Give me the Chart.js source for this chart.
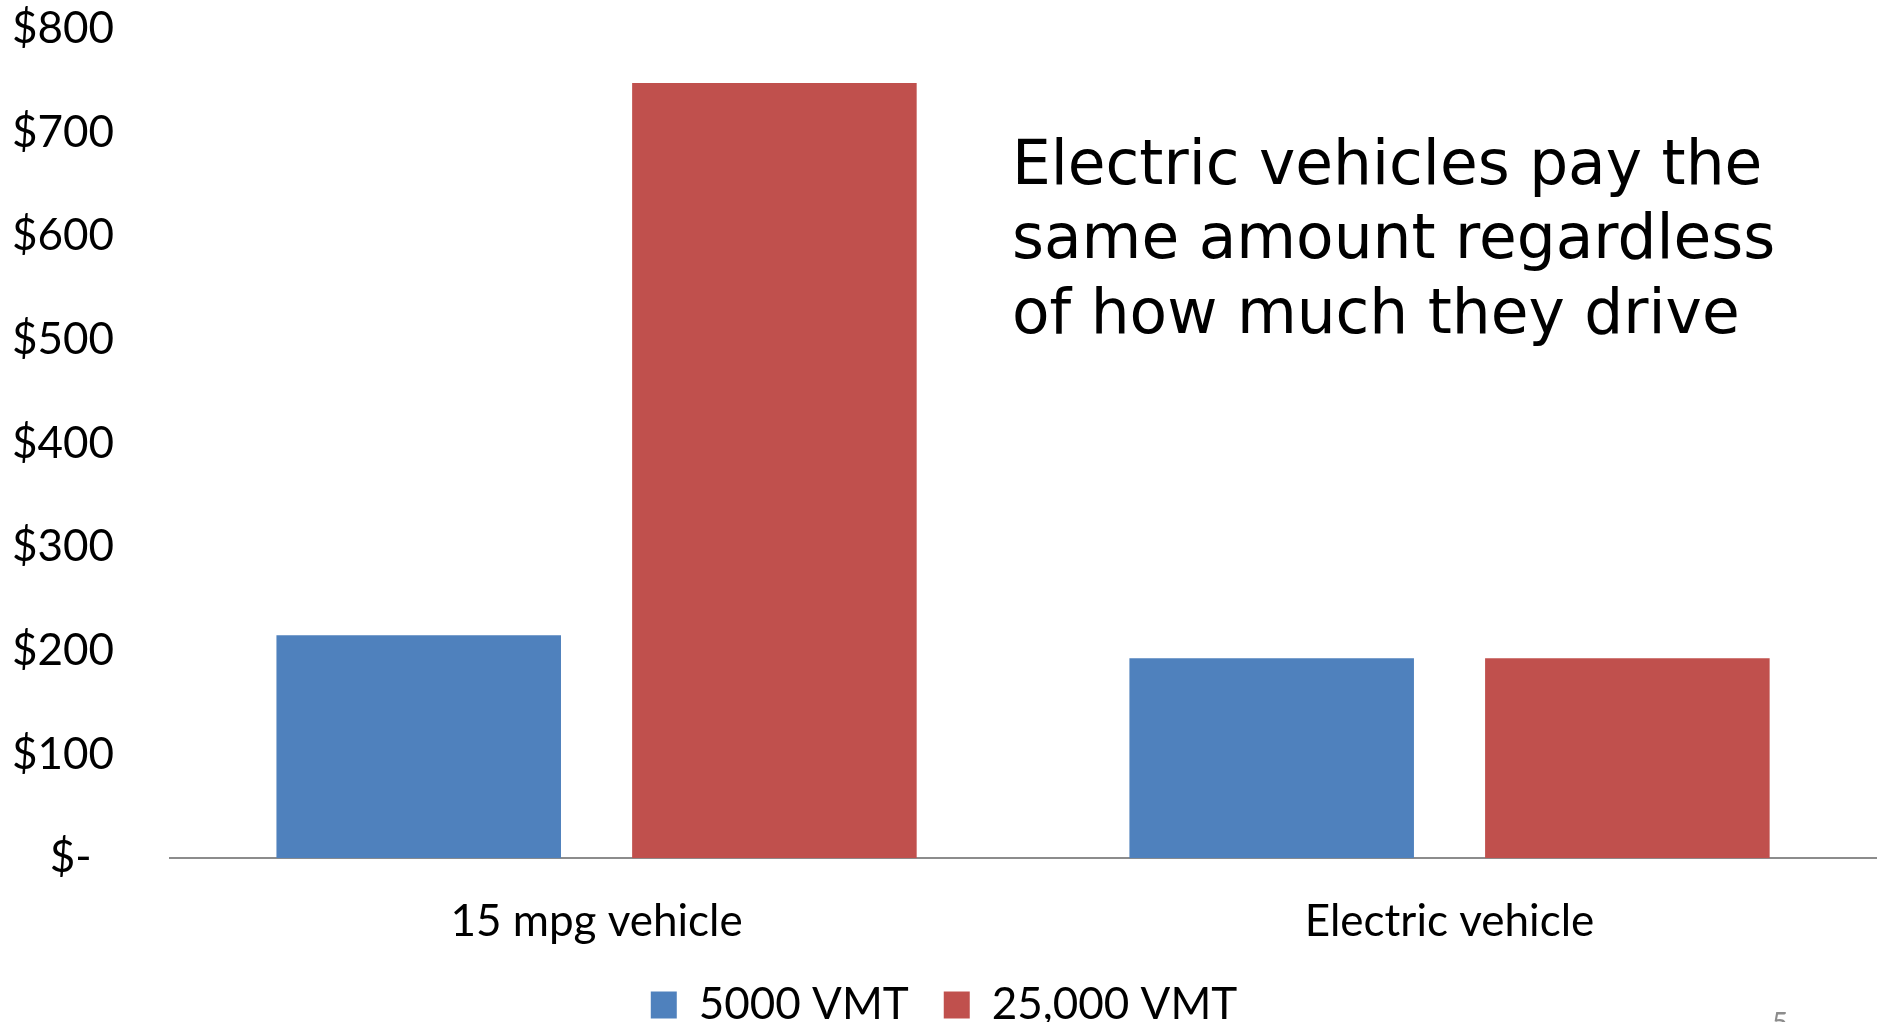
<!DOCTYPE html>
<html>
<head>
<meta charset="utf-8">
<script src="https://cdn.jsdelivr.net/npm/chart.js@4.4.1/dist/chart.umd.min.js"></script>
<style>
  html, body { margin: 0; padding: 0; background: #fff; overflow: hidden; }
  #wrap { position: relative; width: 1879px; height: 1037px; }
</style>
</head>
<body>
<div id="wrap"><canvas id="graficoCostos"></canvas></div>
<script>
const categorias = ['15 mpg vehicle', 'Electric vehicle'];
const valores5000 = [215, 193];
const valores25000 = [748, 193];
const nombresSeries = ['5000 VMT', '25,000 VMT'];
const etiquetasY = ['$-  ', '$100', '$200', '$300', '$400', '$500', '$600', '$700', '$800'];
const notaLineas = ['Electric vehicles pay the', 'same amount regardless', 'of how much they drive'];
const numeroDiapositiva = '5';

const fuenteEje = { family: 'Lato', size: 44 };

// texto de la nota y numero de pagina
const notaPlugin = {
    id: 'nota',
    afterDraw(chart) {
        const ctx = chart.ctx;
        ctx.save();
        let size = 60;
        ctx.font = size + 'px "DejaVu Sans"';
        const ancho = Math.max(...notaLineas.map(l => ctx.measureText(l).width));
        size = size * 763 / ancho;
        ctx.font = size.toFixed(1) + 'px "DejaVu Sans"';
        ctx.fillStyle = '#000';
        ctx.textAlign = 'left';
        ctx.textBaseline = 'alphabetic';
        const bases = [184, 258, 333];
        notaLineas.forEach((l, i) => ctx.fillText(l, 1012, bases[i]));

        ctx.font = '28px "Lato"';
        ctx.fillStyle = '#8c8c8c';
        ctx.textBaseline = 'top';
        ctx.fillText(numeroDiapositiva, 1772, 1010);
        ctx.restore();
    }
};

const ctx = document.getElementById('graficoCostos').getContext('2d');
window.miGrafico = new Chart(ctx, {
    type: 'bar',
    data: {
        labels: categorias,
        datasets: [
            { label: nombresSeries[0], data: valores5000, backgroundColor: '#4F81BD' },
            { label: nombresSeries[1], data: valores25000, backgroundColor: '#C0504D' }
        ]
    },
    options: {
        responsive: true,
        maintainAspectRatio: false,
        animation: false,
        categoryPercentage: 0.834,
        barPercentage: 0.8,
        layout: { padding: { top: 29, left: 12, right: 3, bottom: 0 } },
        plugins: {
            legend: {
                position: 'bottom',
                labels: {
                    font: fuenteEje,
                    color: '#000',
                    boxWidth: 26,
                    boxHeight: 27,
                    padding: 35
                }
            },
            tooltip: { enabled: false }
        },
        scales: {
            x: {
                grid: { display: false, drawTicks: true, tickLength: 37 },
                border: { display: true, color: '#8c8c8c', width: 2 },
                ticks: { font: fuenteEje, color: '#000', padding: 0 }
            },
            y: {
                min: 0,
                max: 800,
                grid: { display: false, drawTicks: true, tickLength: 56 },
                border: { display: false },
                ticks: {
                    stepSize: 100,
                    font: fuenteEje,
                    color: '#000',
                    padding: 0,
                    callback: (v) => etiquetasY[Math.round(v / 100)]
                }
            }
        }
    },
    plugins: [notaPlugin]
});
</script>
</body>
</html>
